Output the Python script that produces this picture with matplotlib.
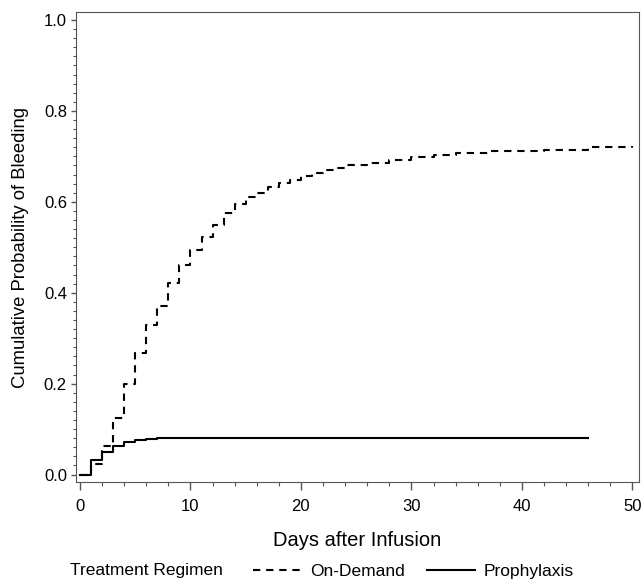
import matplotlib
matplotlib.use('Agg')
import matplotlib.pyplot as plt
from matplotlib.ticker import MultipleLocator, FormatStrFormatter
from matplotlib.lines import Line2D

plt.rcParams['font.family'] = ['Liberation Sans', 'DejaVu Sans']

# step curves (day of step, cumulative probability after step)
ondemand_days = [0, 1, 2, 3, 4, 5, 6, 7, 8, 9, 10, 11, 12, 13, 14, 15, 16, 17,
                 18, 19, 20, 21, 22, 23, 24, 26, 28, 30, 32, 34, 37, 42, 46, 50]
ondemand_prob = [0.0, 0.024, 0.062, 0.125, 0.199, 0.267, 0.328, 0.371, 0.421, 0.461,
                 0.493, 0.522, 0.549, 0.575, 0.595, 0.610, 0.619, 0.632, 0.641,
                 0.649, 0.656, 0.664, 0.671, 0.675, 0.680, 0.685, 0.691, 0.698,
                 0.703, 0.708, 0.711, 0.715, 0.720, 0.723]

prophy_days = [0, 1, 2, 3, 4, 5, 6, 7, 10, 46]
prophy_prob = [0.0, 0.033, 0.050, 0.063, 0.072, 0.075, 0.078, 0.080, 0.081, 0.081]

DASH = (0, (3.5, 2.8))

fig = plt.figure(figsize=(6.44, 5.81), dpi=100)
ax = fig.add_axes([76/644, 1 - 482/581, (639-76)/644, (482-12)/581])

ax.step(ondemand_days, ondemand_prob, where='post', color='black', lw=1.5,
        linestyle=DASH)
ax.step(prophy_days, prophy_prob, where='post', color='black', lw=1.5)

ax.set_xlim(-0.36, 50.6)
ax.set_ylim(-0.0165, 1.0176)
ax.xaxis.set_major_locator(MultipleLocator(10))
ax.xaxis.set_minor_locator(MultipleLocator(2))
ax.yaxis.set_major_locator(MultipleLocator(0.2))
ax.yaxis.set_minor_locator(MultipleLocator(0.02))
ax.yaxis.set_major_formatter(FormatStrFormatter('%.1f'))

for s in ax.spines.values():
    s.set_color('#555555')
ax.tick_params(which='both', direction='out', color='#555555', labelsize=12)
ax.tick_params(axis='x', which='major', length=5.5, width=1, pad=7)
ax.tick_params(axis='x', which='minor', length=3, width=0.8)
ax.tick_params(axis='y', which='major', length=3.5, width=1, pad=3)
ax.tick_params(axis='y', which='minor', length=2, width=0.8)

ax.set_xlabel('Days after Infusion', fontsize=14.5, labelpad=12)
ax.set_ylabel('Cumulative Probability of Bleeding', fontsize=13.3, labelpad=11)

fig.text(70/644, 1 - 571/581, 'Treatment Regimen', fontsize=12.5, va='center', ha='left')
handles = [Line2D([], [], color='black', lw=1.5, linestyle=DASH),
           Line2D([], [], color='black', lw=1.5)]
fig.legend(handles, ['On-Demand', 'Prophylaxis'], ncol=2, frameon=False,
           loc='center left', bbox_to_anchor=(253/644, 1 - 571/581),
           fontsize=12.5, handlelength=2.8, handletextpad=0.5, columnspacing=1.25,
           borderaxespad=0, borderpad=0)

fig.savefig('out.png', dpi=100)
